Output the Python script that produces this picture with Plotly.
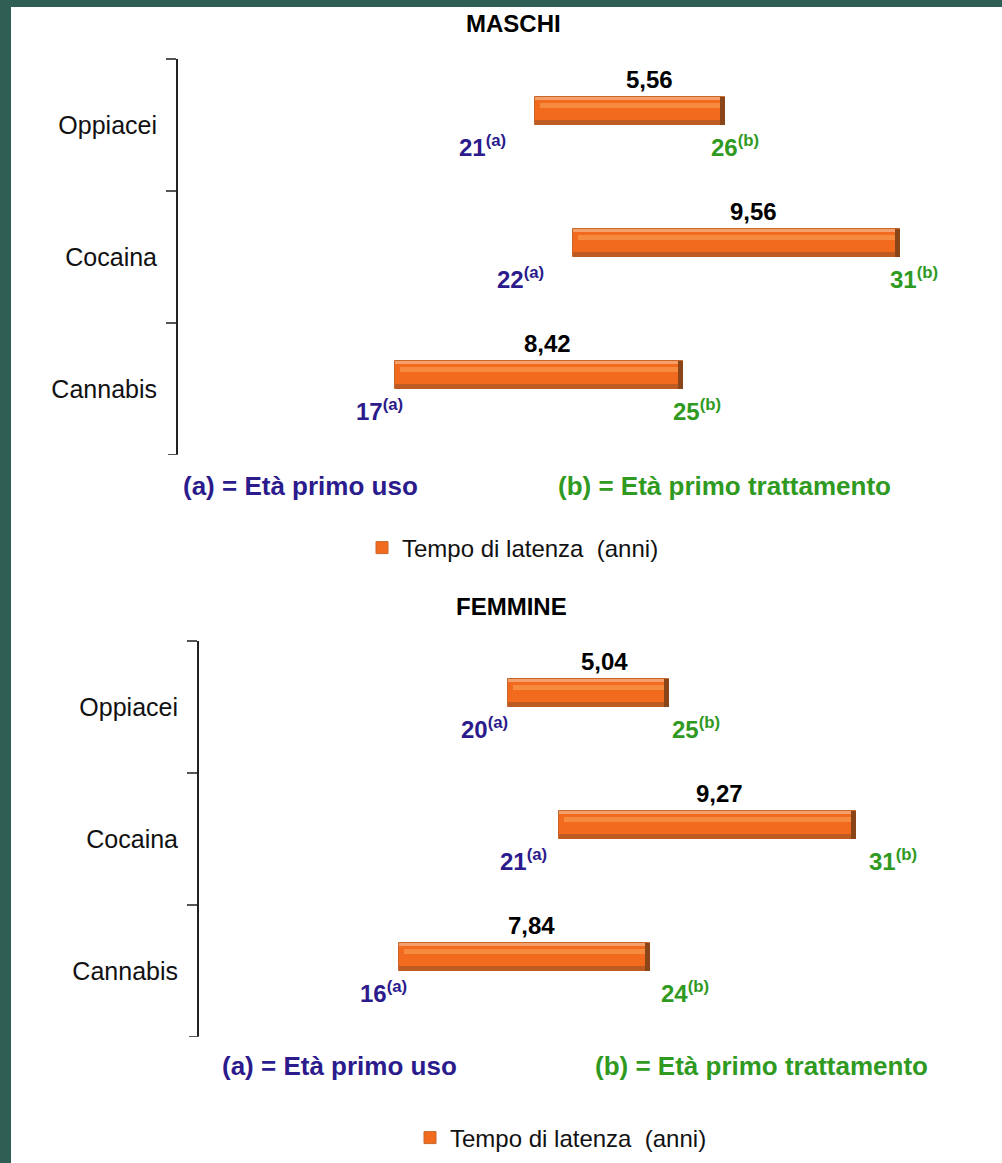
import plotly.graph_objects as go

# ---------------- data ----------------
categories = ["Oppiacei", "Cocaina", "Cannabis"]

m_start_age = [21.0, 22.1, 16.9]          # età primo uso (bar base)
m_latency = [5.56, 9.56, 8.42]            # tempo di latenza (anni)
m_first_use_label = ["21", "22", "17"]
m_treatment_label = ["26", "31", "25"]

f_start_age = [19.6, 21.2, 16.2]
f_latency = [5.04, 9.27, 7.84]
f_first_use_label = ["20", "21", "16"]
f_treatment_label = ["25", "31", "24"]

titles = ["MASCHI", "FEMMINE"]
legend_name = "Tempo di latenza  (anni)"
note_a = "(a) = Età primo uso"
note_b = "(b) = Età primo trattamento"

# ---------------- layout constants ----------------
W, H = 1002, 1163
FONT = "Liberation Sans, Arial, sans-serif"
NAVY = "#2b1b8c"
GREEN = "#2f9a1f"
TEAL = "#2f5e54"
ORANGE = "#f26a1d"

def px_x(p):
    return p / W

def px_y(p):
    return 1 - p / H

panels = [
    dict(start=m_start_age, lat=m_latency, la=m_first_use_label, lb=m_treatment_label,
         xa="x", ya="y", leg="legend", pxyr=34.2, axis_px=178, top=59, bottom=455,
         anchor_px=535,
         val_dx=[19, 17, 9], a_dx=[-27, -27, 10], b_dx=[-16, -12, -12],
         title_px=(513, 24), na_px=(181, 486), nb_px=(556, 486), leg_px=(362, 548)),
    dict(start=f_start_age, lat=f_latency, la=f_first_use_label, lb=f_treatment_label,
         xa="x2", ya="y2", leg="legend2", pxyr=32.0, axis_px=199, top=641, bottom=1037,
         anchor_px=508,
         val_dx=[16, 12, 7], a_dx=[2, -10, 10], b_dx=[1, 11, 9],
         title_px=(511, 606), na_px=(220, 1066), nb_px=(593, 1066), leg_px=(410, 1138)),
]

BAND_PX = 132.0
BAR_W = 28 / BAND_PX

fig = go.Figure()
annotations = []
shapes = []

for i, p in enumerate(panels):
    ends = [s + l for s, l in zip(p["start"], p["lat"])]
    edge = 5 / p["pxyr"]
    common = dict(y=categories, orientation="h", xaxis=p["xa"], yaxis=p["ya"],
                  hoverinfo="skip")
    # main bar
    fig.add_trace(go.Bar(x=p["lat"], base=p["start"], offset=-BAR_W, width=BAR_W,
                         marker=dict(color=ORANGE, line=dict(color="#c8672a", width=1)),
                         name=legend_name, legend=p["leg"], showlegend=True, **common))
    # top light edge
    fig.add_trace(go.Bar(x=p["lat"], base=p["start"], offset=-BAR_W, width=3 / BAND_PX,
                         marker=dict(color="#f5a06c", line=dict(width=0)),
                         showlegend=False, **common))
    # highlight band
    fig.add_trace(go.Bar(x=[l - 2 * edge for l in p["lat"]], base=[s + edge for s in p["start"]],
                         offset=-BAR_W + 6 / BAND_PX, width=5 / BAND_PX,
                         marker=dict(color="#f68a3e", line=dict(width=0)),
                         showlegend=False, **common))
    # bottom shadow
    fig.add_trace(go.Bar(x=p["lat"], base=p["start"], offset=-5 / BAND_PX, width=5 / BAND_PX,
                         marker=dict(color="#bd5b22", line=dict(width=0)),
                         showlegend=False, **common))
    # right shadow
    fig.add_trace(go.Bar(x=[edge] * 3, base=[e - edge for e in ends], offset=-BAR_W,
                         width=BAR_W, marker=dict(color="#8a4519", line=dict(width=0)),
                         showlegend=False, **common))

    for k, cat in enumerate(categories):
        mid = p["start"][k] + p["lat"][k] / 2
        annotations.append(dict(
            x=mid, y=cat, xref=p["xa"], yref=p["ya"], xshift=p["val_dx"][k], yshift=46,
            text="<b>" + f"{p['lat'][k]:.2f}".replace(".", ",") + "</b>",
            showarrow=False, font=dict(family=FONT, size=24, color="#000000")))
        annotations.append(dict(
            x=p["start"][k], y=cat, xref=p["xa"], yref=p["ya"], xanchor="right",
            xshift=p["a_dx"][k], yshift=-21,
            text="<b>" + p["la"][k] + "<sup>(a)</sup></b>",
            showarrow=False, font=dict(family=FONT, size=24, color=NAVY)))
        annotations.append(dict(
            x=ends[k], y=cat, xref=p["xa"], yref=p["ya"], xanchor="left",
            xshift=p["b_dx"][k], yshift=-21,
            text="<b>" + p["lb"][k] + "<sup>(b)</sup></b>",
            showarrow=False, font=dict(family=FONT, size=24, color=GREEN)))

    tx, ty = p["title_px"]
    annotations.append(dict(x=px_x(tx), y=px_y(ty), xref="paper", yref="paper",
                            xanchor="center", yanchor="middle",
                            text="<b>" + titles[i] + "</b>", showarrow=False,
                            font=dict(family=FONT, size=24, color="#000000")))
    ax_, ay_ = p["na_px"]
    annotations.append(dict(x=px_x(ax_), y=px_y(ay_), xref="paper", yref="paper",
                            xanchor="left", yanchor="middle",
                            text="<b>" + note_a + "</b>", showarrow=False,
                            font=dict(family=FONT, size=26, color=NAVY)))
    bx_, by_ = p["nb_px"]
    annotations.append(dict(x=px_x(bx_), y=px_y(by_), xref="paper", yref="paper",
                            xanchor="left", yanchor="middle",
                            text="<b>" + note_b + "</b>", showarrow=False,
                            font=dict(family=FONT, size=26, color=GREEN)))

    # x range so that 1 year = pxyr pixels, axis line at axis_px
    anchor_val = p["start"][0]
    x0 = anchor_val - (p["anchor_px"] - p["axis_px"]) / p["pxyr"]
    x1 = anchor_val + (W - p["anchor_px"]) / p["pxyr"]
    xkey = "xaxis" if i == 0 else "xaxis2"
    ykey = "yaxis" if i == 0 else "yaxis2"
    fig.update_layout(**{
        xkey: dict(domain=[px_x(p["axis_px"]), 1], range=[x0, x1], visible=False,
                   anchor=p["ya"], fixedrange=True),
        ykey: dict(domain=[px_y(p["bottom"]), px_y(p["top"])], type="category",
                   categoryorder="array", categoryarray=categories,
                   range=[len(categories) - 0.5, -0.5], anchor=p["xa"],
                   tickson="boundaries",
                   ticks="outside", ticklen=10, tickwidth=2, tickcolor="#555555",
                   showline=True, linecolor="#222222", linewidth=2, showgrid=False,
                   zeroline=False, ticklabelstandoff=14,
                   tickfont=dict(family=FONT, size=25, color="#111111"),
                   fixedrange=True),
    })
    # closing tick at the last category boundary
    shapes.append(dict(type="line", xref="paper", yref=p["ya"],
                       x0=px_x(p["axis_px"] - 10), x1=px_x(p["axis_px"]),
                       y0=len(categories) - 0.5, y1=len(categories) - 0.5,
                       line=dict(color="#555555", width=2)))
    lx, ly = p["leg_px"]
    fig.update_layout(**{
        p["leg"]: dict(x=px_x(lx), y=px_y(ly), xanchor="left", yanchor="middle",
                       bgcolor="rgba(0,0,0,0)", borderwidth=0, itemwidth=30,
                       font=dict(family=FONT, size=24, color="#111111"),
                       orientation="h"),
    })

shapes += [
    dict(type="rect", xref="paper", yref="paper", x0=0, x1=px_x(11), y0=0, y1=1,
         fillcolor=TEAL, line=dict(width=0), layer="above"),
    dict(type="rect", xref="paper", yref="paper", x0=0, x1=1, y0=px_y(7), y1=1,
         fillcolor=TEAL, line=dict(width=0), layer="above"),
]

fig.update_layout(
    width=W, height=H, margin=dict(l=0, r=0, t=0, b=0),
    paper_bgcolor="#ffffff", plot_bgcolor="rgba(0,0,0,0)",
    barmode="overlay", bargap=0,
    annotations=annotations, shapes=shapes,
    font=dict(family=FONT),
)

fig.write_html("out.html")
